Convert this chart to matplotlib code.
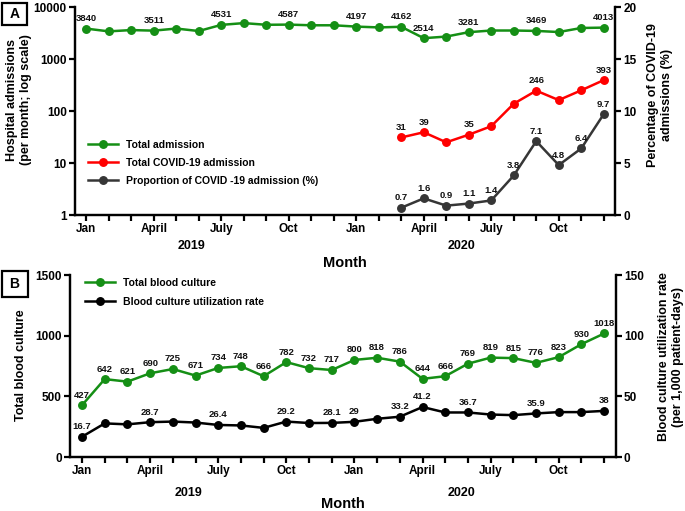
import matplotlib
matplotlib.use('Agg')
import matplotlib.pyplot as plt
import matplotlib.transforms as mtransforms
from matplotlib.patches import Rectangle
from matplotlib.ticker import NullLocator

plt.rcParams['font.family'] = ['Liberation Sans', 'DejaVu Sans']
plt.rcParams['font.weight'] = 'bold'
plt.rcParams['axes.labelweight'] = 'bold'

# ---------------- data ----------------
months = list(range(24))
month_labels = ['Jan', '', '', 'April', '', '', 'July', '', '', 'Oct', '', '',
                'Jan', '', '', 'April', '', '', 'July', '', '', 'Oct', '', '']
years = ['2019', '2020']

total_admission = [3840, 3400, 3600, 3511, 3850, 3450, 4531, 4900, 4550, 4587, 4450, 4450,
                   4197, 4050, 4162, 2514, 2700, 3281, 3530, 3530, 3469, 3300, 3950, 4013]
admission_label_idx = [0, 3, 6, 9, 12, 14, 15, 17, 20, 23]

covid_months = list(range(14, 24))
covid_admission = [31, 39, 25, 35, 51, 138, 246, 162, 250, 393]
covid_label_idx = [0, 1, 3, 6, 9]

covid_pct = [0.7, 1.6, 0.9, 1.1, 1.4, 3.8, 7.1, 4.8, 6.4, 9.7]

blood_culture = [427, 642, 621, 690, 725, 671, 734, 748, 666, 782, 732, 717,
                 800, 818, 786, 644, 666, 769, 819, 815, 776, 823, 930, 1018]

utilization_rate = [16.7, 27.7, 26.9, 28.7, 29.2, 28.4, 26.4, 26.0, 24.0, 29.2, 28.0, 28.1,
                    29.0, 31.5, 33.2, 41.2, 36.7, 36.7, 35.0, 34.5, 35.9, 37.0, 37.0, 38.0]
rate_label_idx = [0, 3, 6, 9, 11, 12, 14, 15, 17, 20, 23]

GREEN = '#158f15'
RED = '#ff0000'
GREY = '#363636'
BLACK = '#000000'

W, H = 685, 511
fig = plt.figure(figsize=(W / 100, H / 100), dpi=100)

def px_axes(l, t, r, b):
    return fig.add_axes([l / W, 1 - b / H, (r - l) / W, (b - t) / H])

def style(ax):
    ax.spines['top'].set_visible(False)
    for s in ['left', 'bottom', 'right']:
        ax.spines[s].set_linewidth(1.6)
    ax.tick_params(axis='both', width=1.6, length=4, labelsize=8.5, direction='out', pad=2)

def label_points(ax, xs, ys, idx, fmt=lambda v: f"{v:g}", dy=4, color='#111111'):
    for i in idx:
        ax.annotate(fmt(ys[i]), (xs[i], ys[i]), xytext=(0, dy), textcoords='offset points',
                    ha='center', va='bottom', fontsize=6.8, fontweight='bold', color=color)

line_kw = dict(lw=1.8, marker='o', ms=5.4, clip_on=False)

# ---------------- Panel A ----------------
axA = px_axes(75, 7, 615, 215)
axA2 = axA.twinx()
style(axA)
style(axA2)
axA.set_yscale('log')
axA.set_ylim(1, 10000)
axA.set_yticks([1, 10, 100, 1000, 10000])
axA.set_yticklabels(['1', '10', '100', '1000', '10000'])
axA.yaxis.set_minor_locator(NullLocator())
axA2.set_ylim(0, 20)
axA2.set_yticks([0, 5, 10, 15, 20])
axA.set_xlim(-0.5, 23.5)
axA.set_xticks(months)
axA.set_xticklabels(month_labels)

lA1, = axA.plot(months, total_admission, color=GREEN, label='Total admission', **line_kw)
lA2, = axA.plot(covid_months, covid_admission, color=RED, label='Total COVID-19 admission', **line_kw)
lA3, = axA2.plot(covid_months, covid_pct, color=GREY, label='Proportion of COVID -19 admission (%)', **line_kw)

label_points(axA, months, total_admission, admission_label_idx)
label_points(axA, covid_months, covid_admission, covid_label_idx)
label_points(axA2, covid_months, covid_pct, range(len(covid_pct)))

axA2.legend(handles=[lA1, lA2, lA3], loc='upper left', bbox_to_anchor=(0.024, 0.36),
            frameon=False, fontsize=7.5, handlelength=2.9, handletextpad=0.75,
            labelspacing=0.75, borderaxespad=0, borderpad=0)

trA = mtransforms.blended_transform_factory(axA.transData, axA.transAxes)
axA.text(4.7, -0.148, years[0], transform=trA, ha='center', va='center', fontsize=9)
axA.text(16.7, -0.148, years[1], transform=trA, ha='center', va='center', fontsize=9)
axA.text(0.5, -0.231, 'Month', transform=axA.transAxes, ha='center', va='center', fontsize=10.5)

fig.text(19 / W, 1 - 100 / H, 'Hospital admissions\n(per month; log scale)', rotation=90,
         ha='center', va='center', fontsize=9, linespacing=1.2)
fig.text(660 / W, 1 - 95 / H, 'Percentage of COVID-19\nadmissions (%)', rotation=90,
         ha='center', va='center', fontsize=9, linespacing=1.2)

# ---------------- Panel B ----------------
axB = px_axes(70, 275, 615.5, 457)
axB2 = axB.twinx()
style(axB)
style(axB2)
axB.set_ylim(0, 1500)
axB.set_yticks([0, 500, 1000, 1500])
axB2.set_ylim(0, 150)
axB2.set_yticks([0, 50, 100, 150])
axB.set_xlim(-0.53, 23.5)
axB.set_xticks(months)
axB.set_xticklabels(month_labels)

lB1, = axB.plot(months, blood_culture, color=GREEN, label='Total blood culture', **line_kw)
lB2, = axB2.plot(months, utilization_rate, color=BLACK, label='Blood culture utilization rate', **line_kw)

label_points(axB, months, blood_culture, range(len(blood_culture)))
label_points(axB2, months, utilization_rate, rate_label_idx)

axB2.legend(handles=[lB1, lB2], loc='upper left', bbox_to_anchor=(0.0275, 0.985),
            frameon=False, fontsize=7.5, handlelength=2.9, handletextpad=0.75,
            labelspacing=0.85, borderaxespad=0, borderpad=0)

trB = mtransforms.blended_transform_factory(axB.transData, axB.transAxes)
axB.text(4.7, -0.198, years[0], transform=trB, ha='center', va='center', fontsize=9)
axB.text(16.7, -0.198, years[1], transform=trB, ha='center', va='center', fontsize=9)
axB.text(0.5, -0.258, 'Month', transform=axB.transAxes, ha='center', va='center', fontsize=10.5)

fig.text(21 / W, 1 - 365 / H, 'Total blood culture', rotation=90,
         ha='center', va='center', fontsize=9)
fig.text(671 / W, 1 - 357 / H, 'Blood culture utilization rate\n(per 1,000 patient-days)', rotation=90,
         ha='center', va='center', fontsize=9, linespacing=1.2)

# ---------------- panel letters ----------------
for (l, t, r, b, letter) in [(2, 3, 27, 25, 'A'), (1.5, 271, 27.5, 297, 'B')]:
    fig.add_artist(Rectangle((l / W, 1 - b / H), (r - l) / W, (b - t) / H,
                             transform=fig.transFigure, fill=False, lw=1.6, edgecolor='black'))
    fig.text((l + r) / 2 / W, 1 - (t + b) / 2 / H, letter, ha='center', va='center', fontsize=10)

fig.savefig('out.png', dpi=100)
